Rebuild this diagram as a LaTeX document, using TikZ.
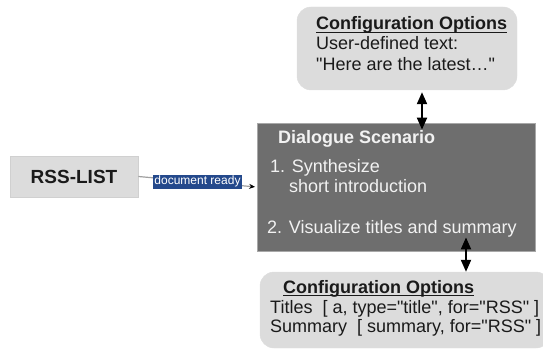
\documentclass[tikz,border=0pt]{standalone}
\usepackage{fontspec}
\setmainfont{Liberation Sans}[Ligatures=TeXOff]
\usetikzlibrary{arrows.meta,calc}

\definecolor{lightbox}{HTML}{DCDCDC}
\definecolor{lightedge}{HTML}{D0D0D0}
\definecolor{darkbox}{HTML}{6E6E6E}
\definecolor{darkedge}{HTML}{A8A8A8}
\definecolor{tagblue}{HTML}{24498C}
\definecolor{inktext}{HTML}{1A1A1A}
\definecolor{paletext}{HTML}{F2F2F2}
\definecolor{wire}{HTML}{A0A0A0}

\tikzset{
  x=1pt, y=-1pt,
  source/.style={draw=lightedge, fill=lightbox, line width=0.8pt,
    minimum width=128pt, minimum height=41pt, inner sep=0pt},
  scenario/.style={draw=darkedge, fill=darkbox, line width=0.8pt,
    minimum width=278pt, minimum height=128pt, inner sep=0pt},
  optbox/.style={fill=lightbox, draw=lightbox, rounded corners=14pt, inner sep=0pt},
  txt/.style={anchor=base west, inner sep=0pt, text=inktext,
    font=\fontsize{18}{22}\selectfont},
  btxt/.style={txt, font=\fontsize{18}{22}\selectfont\bfseries},
  wtxt/.style={txt, text=paletext},
  wbtxt/.style={btxt, text=paletext},
  tag/.style={fill=tagblue, text=white, inner xsep=1pt, inner ysep=1.5pt,
    font=\fontsize{12}{13}\selectfont},
  bothway/.style={line width=2pt, draw=black,
    {Triangle[length=12pt,width=10pt]}-{Triangle[length=12pt,width=10pt]}},
  uline/.style={line width=1.3pt, draw=inktext}
}

\begin{document}
\begin{tikzpicture}
  \useasboundingbox (0,0) rectangle (543,350);
  \clip (0,0) rectangle (543,350);

  % boxes
  \node[source]   (rss)  at (74,176.5) {};
  \node[scenario] (scen) at (396,187) {};
  \node[optbox, minimum width=220pt, minimum height=83pt] (top) at (407,48.5) {};
  \node[optbox, minimum width=290pt, minimum height=76pt] (bot) at (405,310) {};

  % source label
  \node[anchor=base, inner sep=0pt, text=inktext,
        font=\fontsize{19}{22}\selectfont\bfseries] (rsst) at (74,183) {RSS-LIST};

  % upper options
  \node[btxt] (cfa) at (316,30) {Configuration Options};
  \draw[uline] ([yshift=-2.5pt]cfa.base west) -- ([yshift=-2.5pt]cfa.base east);
  \node[txt] (ua) at (316,50) {User-defined text:};
  \node[txt] (ub) at (316,71) {"Here are the latest…"};

  % scenario steps
  \node[wbtxt] (sh) at (278,143) {Dialogue Scenario};
  \node[wtxt] (s1) at (270,172) {1. Synthesize};
  \node[wtxt] (s1b) at (289,192) {short introduction};
  \node[wtxt] (s2) at (267,233) {2. Visualize titles and summary};

  % lower options
  \node[btxt] (cfb) at (283,293) {Configuration Options};
  \draw[uline] ([yshift=-2.5pt]cfb.base west) -- ([yshift=-2.5pt]cfb.base east);
  \node[txt] (la) at (270,313) {Titles\ \ [ a, type="title", for="RSS" ]};
  \node[txt] (lb) at (270,332) {Summary\ \ [ summary, for="RSS" ]};

  % connectors
  \draw[wire, line width=1.2pt, -{Stealth[length=6pt,width=5pt,black]}, shorten >=1.5pt]
    (rss.east) -- node[tag] (ready) {document ready} (scen.west);

  \coordinate (ta) at (422,0);
  \coordinate (tb) at (466,0);
  \draw[bothway, shorten <=2pt, shorten >=-7pt] (top.south -| ta) -- (scen.north -| ta);
  \draw[bothway, shorten <=-14pt] (scen.south -| tb) -- (bot.north -| tb);
\end{tikzpicture}
\end{document}
